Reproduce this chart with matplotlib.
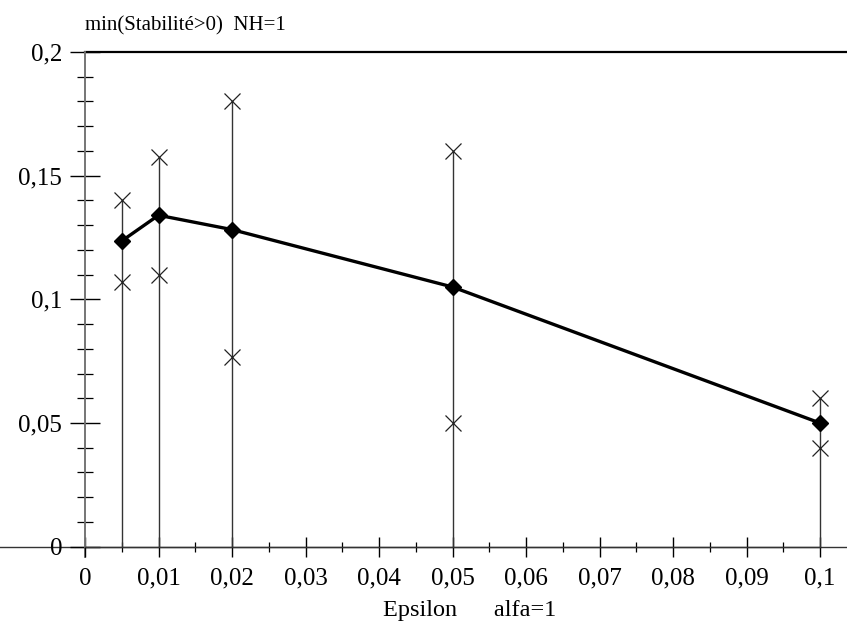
import numpy as np
import matplotlib
matplotlib.use("Agg")
import matplotlib.pyplot as plt
from matplotlib.ticker import MultipleLocator, FuncFormatter

# data
epsilon  = [0.005, 0.01, 0.02, 0.05, 0.1]
mean_val = [0.1236, 0.134, 0.1282, 0.105, 0.050]
max_val  = [0.140, 0.1577, 0.180, 0.160, 0.060]
min_val  = [0.107, 0.110, 0.0765, 0.050, 0.040]

TITLE  = "min(Stabilité>0)  NH=1"
XLABEL = "Epsilon      alfa=1"

plt.rcParams["font.family"] = ["Liberation Serif", "DejaVu Serif"]


def comma_fmt(v, _):
    s = f"{v:.2f}".rstrip("0").rstrip(".")
    if s in ("-0", ""):
        s = "0"
    return s.replace(".", ",")


fig = plt.figure(figsize=(8.47, 6.29), dpi=100)
ax = fig.add_axes([85 / 847, 1 - 546.7 / 629, 735 / 847, 494.7 / 629])

ax.vlines(epsilon, 0, max_val, color="#333333", lw=1.0, zorder=2, clip_on=False)
ax.plot(epsilon, max_val, "x", color="#222222", ms=11, mew=0.9, zorder=3, clip_on=False)
ax.plot(epsilon, min_val, "x", color="#222222", ms=11, mew=0.9, zorder=3, clip_on=False)
ax.plot(epsilon, mean_val, "-D", color="black", lw=2.4, ms=8, zorder=4, clip_on=False)

ax.set_xlim(0, 0.1)
ax.set_ylim(0, 0.2)

for side in ("top", "right"):
    ax.spines[side].set_visible(False)
ax.spines["left"].set_color("#777777")
ax.spines["left"].set_linewidth(1.3)
ax.spines["bottom"].set_color("#333333")
ax.spines["bottom"].set_linewidth(1.0)

# long axis lines running past the plot area
ax.plot([-0.022, 0.104], [0, 0], color="#333333", lw=1.0, clip_on=False, zorder=1)
ax.plot([0, 0], [-0.004, 0.2], color="#777777", lw=1.3, clip_on=False, zorder=1)
ax.plot([0, 0.104], [0.2, 0.2], color="black", lw=1.6, clip_on=False, zorder=1)

ax.xaxis.set_major_locator(MultipleLocator(0.01))
ax.xaxis.set_minor_locator(MultipleLocator(0.005))
ax.yaxis.set_major_locator(MultipleLocator(0.05))
ax.yaxis.set_minor_locator(MultipleLocator(0.01))
ax.xaxis.set_major_formatter(FuncFormatter(comma_fmt))
ax.yaxis.set_major_formatter(FuncFormatter(comma_fmt))

ax.tick_params(axis="x", which="major", direction="inout", length=14, width=1.0,
               labelsize=18, pad=8)
ax.tick_params(axis="x", which="minor", direction="inout", length=7, width=0.9)
ax.tick_params(axis="y", which="major", direction="inout", length=21, width=1.0,
               labelsize=18, pad=6)
ax.tick_params(axis="y", which="minor", direction="inout", length=11, width=0.9)

fig.text(85 / 847, 1 - 30 / 629, TITLE, fontsize=15, ha="left", va="baseline")
fig.text(470 / 847, 1 - 616 / 629, XLABEL, fontsize=17.5, ha="center", va="baseline")

fig.savefig("out.png", dpi=100)
